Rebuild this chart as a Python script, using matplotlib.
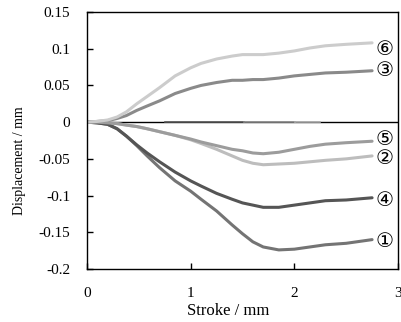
import matplotlib
matplotlib.use("Agg")
import matplotlib.pyplot as plt

# stroke positions (mm)
stroke = [0.0, 0.1, 0.2, 0.29, 0.38, 0.48, 0.58, 0.7, 0.85, 1.0, 1.1, 1.25,
          1.4, 1.5, 1.6, 1.7, 1.85, 2.0, 2.15, 2.3, 2.5, 2.75]

s1 = [0.0, -0.001, -0.003, -0.009, -0.019, -0.032, -0.046, -0.062, -0.080, -0.094, -0.105, -0.121,
      -0.140, -0.152, -0.163, -0.170, -0.174, -0.173, -0.170, -0.167, -0.165, -0.160]
s2 = [0.0, 0.0, -0.001, -0.002, -0.004, -0.006, -0.009, -0.013, -0.018, -0.024, -0.029, -0.037,
      -0.046, -0.052, -0.056, -0.058, -0.057, -0.056, -0.054, -0.052, -0.050, -0.046]
s3 = [0.0, 0.001, 0.002, 0.005, 0.009, 0.016, 0.022, 0.029, 0.039, 0.046, 0.050, 0.054,
      0.057, 0.057, 0.058, 0.058, 0.060, 0.063, 0.065, 0.067, 0.068, 0.070]
s4 = [0.0, -0.001, -0.003, -0.009, -0.019, -0.031, -0.042, -0.054, -0.068, -0.080, -0.087, -0.097,
      -0.105, -0.110, -0.113, -0.116, -0.116, -0.113, -0.110, -0.107, -0.106, -0.103]
s5 = [0.0, 0.0, -0.001, -0.002, -0.004, -0.006, -0.009, -0.013, -0.018, -0.023, -0.027, -0.032,
      -0.037, -0.039, -0.042, -0.043, -0.041, -0.037, -0.033, -0.030, -0.028, -0.026]
s6 = [0.0, 0.001, 0.003, 0.007, 0.014, 0.025, 0.035, 0.047, 0.063, 0.074, 0.080, 0.086,
      0.090, 0.092, 0.092, 0.092, 0.094, 0.097, 0.101, 0.104, 0.106, 0.108]

labels = ["①", "②", "③", "④", "⑤", "⑥"]
series = [s1, s2, s3, s4, s5, s6]
colors = ["#747474", "#bdbdbd", "#8a8a8a", "#555555", "#9c9c9c", "#cccccc"]

# zero-valued reference traces lying on the baseline
zero_ranges = [(0.75, 1.51), (1.51, 2.01), (2.01, 2.25)]
zero_colors = ["#555555", "#888888", "#aaaaaa"]

xticks = [0, 1, 2, 3]
yticks = [-0.2, -0.15, -0.1, -0.05, 0, 0.05, 0.1, 0.15]
ytick_labels = ["-0.2", "-0.15", "-0.1", "-0.05", "0", "0.05", "0.1", "0.15"]

plt.rcParams['font.family'] = ['Liberation Serif', 'DejaVu Sans']
fig = plt.figure(figsize=(4.01, 3.22), dpi=100)
ax = fig.add_axes([0.217, 0.1646, 0.7755, 0.7981])

ax.axhline(0, color="black", lw=1.0, zorder=1)
for (x0, x1), c in zip(zero_ranges, zero_colors):
    ax.plot([x0, x1], [0, 0], color=c, lw=1.2, zorder=1.5)

label_dy = {"①": -0.002, "②": -0.004, "③": 0.001, "④": -0.004, "⑤": 0.003, "⑥": -0.009}
for s, c, lab in zip(series, colors, labels):
    ax.plot(stroke, s, color=c, lw=2.2, solid_capstyle="round", solid_joinstyle="round", zorder=2)
    ax.text(stroke[-1] + 0.03, s[-1] + label_dy[lab], lab, family="DejaVu Sans", fontsize=14.5,
            va="center", ha="left", color="black")

ax.set_xlim(0, 3)
ax.set_ylim(-0.2, 0.15)
ax.set_xticks(xticks)
ax.set_xticklabels([str(v) for v in xticks])
ax.set_yticks(yticks)
ax.set_yticklabels(ytick_labels)
ax.tick_params(direction="in", length=4, width=1, labelsize=11)
ax.tick_params(axis="x", pad=13)
ax.tick_params(axis="y", pad=12)
for sp in ax.spines.values():
    sp.set_linewidth(1.0)
ax.set_xlabel("Stroke / mm", fontsize=12)
ax.set_ylabel("Displacement / mm", fontsize=10)
ax.xaxis.set_label_coords(0.453, -0.132)
ax.yaxis.set_label_coords(-0.196, 0.42)

fig.savefig("out.png", dpi=100)
